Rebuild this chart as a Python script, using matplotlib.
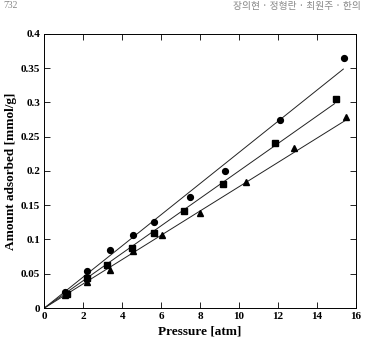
import matplotlib
matplotlib.use('Agg')
import matplotlib.pyplot as plt
import numpy as np

# circles
p_circ = [1.06, 2.17, 3.39, 4.56, 5.64, 7.47, 9.29, 12.08, 15.37]
a_circ = [0.023, 0.054, 0.085, 0.106, 0.125, 0.162, 0.200, 0.274, 0.364]
# squares
p_sq = [1.15, 2.17, 3.20, 4.50, 5.65, 7.19, 9.18, 11.84, 14.96]
a_sq = [0.021, 0.044, 0.063, 0.087, 0.110, 0.141, 0.181, 0.240, 0.305]
# triangles
p_tri = [1.06, 2.17, 3.37, 4.57, 6.06, 7.98, 10.35, 12.83, 15.5]
a_tri = [0.019, 0.038, 0.056, 0.083, 0.107, 0.139, 0.184, 0.233, 0.279]

# fitted lines through origin (slope, end pressure)
fit_slopes = [0.0227, 0.0200, 0.0177]
fit_ends = [15.35, 14.9, 15.5]

xticks = [0, 2, 4, 6, 8, 10, 12, 14, 16]
yticks = [0, 0.05, 0.1, 0.15, 0.2, 0.25, 0.3, 0.35, 0.4]
ytick_labels = ['0', '0.05', '0.1', '0.15', '0.2', '0.25', '0.3', '0.35', '0.4']

serif = 'Liberation Serif'

fig = plt.figure(figsize=(3.65, 3.42), dpi=100)
ax = fig.add_axes([0.1216, 0.0994, 0.8537, 0.802])

for s, e in zip(fit_slopes, fit_ends):
    xs = np.array([0, e])
    ax.plot(xs, s * xs, c='#222222', linewidth=0.7)

ax.plot(p_circ, a_circ, 'o', c='black', markersize=4.2, linestyle='none')
ax.plot(p_sq, a_sq, 's', c='black', markersize=4.2, linestyle='none')
ax.plot(p_tri, a_tri, '^', c='black', markersize=4.2, linestyle='none')

ax.set_xlim(0, 16)
ax.set_ylim(0, 0.4)
ax.set_xticks(xticks)
ax.set_yticks(yticks)
ax.set_yticklabels(ytick_labels)
ax.tick_params(direction='in', top=True, right=True, length=4, width=0.6, pad=3)
for lab in ax.get_xticklabels() + ax.get_yticklabels():
    lab.set_fontfamily(serif)
    lab.set_fontweight('bold')
    lab.set_fontsize(8)
for sp in ax.spines.values():
    sp.set_linewidth(0.7)

ax.set_xlabel('Pressure [atm]', fontfamily=serif, fontweight='bold', fontsize=9.5, labelpad=3)
ax.set_ylabel('Amount adsorbed [mmol/g]', fontfamily=serif, fontweight='bold', fontsize=9.5, labelpad=3)

# page header
fig.text(0.01, 0.998, '732', fontsize=7, color='#888888', va='top', fontfamily=serif)
fig.text(0.99, 0.998, '장의현 · 정형란 · 최원주 · 한의', fontsize=7, color='#888888',
         va='top', ha='right', fontfamily=['Noto Sans CJK KR', 'DejaVu Sans'])

plt.savefig('out.png', dpi=100)
